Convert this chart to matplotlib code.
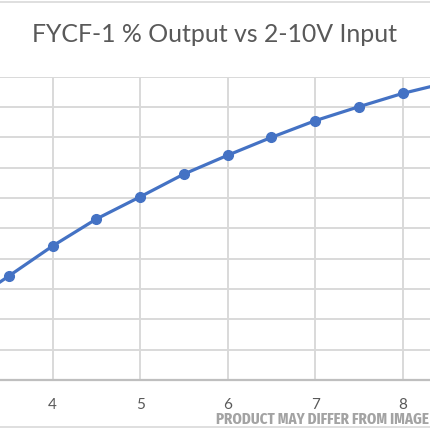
import os
import matplotlib
matplotlib.use("Agg")
import matplotlib.pyplot as plt
from matplotlib.lines import Line2D
from matplotlib import font_manager

# % output (input volts -> percent)
volts = [3.0, 3.5, 4.0, 4.5, 5.0, 5.5, 6.0, 6.5, 7.0, 7.5, 8.0, 8.5]
output = [24.5, 34.3, 44.2, 53.1, 60.4, 67.9, 74.1, 80.0, 85.5, 90.1, 94.5, 98.0]
xticks = [4, 5, 6, 7, 8]
yticks = list(range(0, 101, 10))
title = "FYCF-1 % Output vs 2-10V Input"
watermark = "PRODUCT MAY DIFFER FROM IMAGE"


def narrow_font():
    # look for any installed condensed / narrow face, bold preferred
    best, best_score = None, -1
    for f in font_manager.fontManager.ttflist:
        base = os.path.basename(f.fname).lower()
        nm = f.name.lower()
        st = str(f.stretch).lower()
        if not ("cond" in base or "narrow" in base or "condensed" in nm
                or "narrow" in nm or "condensed" in st):
            continue
        w = f.weight
        if isinstance(w, str):
            w = font_manager.weight_dict.get(w, 400)
        if "italic" in base or str(f.style) != "normal":
            continue
        score = 1000 - abs(w - 700)
        if "extra" in base or "extra" in st:
            score += 50
        if score > best_score:
            best, best_score = f, score
    return best


W = H = 430
fig = plt.figure(figsize=(4.3, 4.3), dpi=100)
fig.patch.set_facecolor("white")

# plot area is wider than the crop, so the axes runs off both sides
ax = fig.add_axes([0, 1 - 380 / H, 1, (380 - 76.7) / H])
ax.set_xticks(xticks)
ax.set_yticks(yticks)
ax.set_xlim(3.398, 8.312)
ax.set_ylim(0, 100)
ax.grid(True, color="#d9d9d9", linewidth=1.4)
ax.set_axisbelow(True)
for s in ["top", "left", "right"]:
    ax.spines[s].set_visible(False)
ax.spines["bottom"].set_color("#bfbfbf")
ax.spines["bottom"].set_linewidth(1.6)
ax.tick_params(length=0, labelsize=11, labelcolor="#595959", pad=13)
ax.set_yticklabels([])
for lab in ax.get_xticklabels():
    lab.set_family("Lato")

ax.plot(volts, output, color="#4472c4", linewidth=2.3, marker="o",
        markersize=7)

fig.text(0.5, 1 - 34.5 / H, title, ha="center", va="center",
         fontsize=17.9, color="#595959", family="Lato")

nf = narrow_font()
if nf is not None:
    wm_font = font_manager.FontProperties(fname=nf.fname, size=13)
else:
    wm_font = font_manager.FontProperties(family="DejaVu Sans",
                                          weight="bold", size=13)
wm = fig.text(216 / W, 1 - 424 / H, watermark, ha="left", va="baseline",
              color="#a3a3a3", fontproperties=wm_font)
# keep the watermark inside the picture
fig.canvas.draw()
bb = wm.get_window_extent()
if bb.width > 213:
    wm.set_fontsize(13 * 213 / bb.width)

# thin chart border lines at top and bottom of the crop
fig.add_artist(Line2D([0, 1], [1 - 2 / H, 1 - 2 / H], color="#d9d9d9",
                      linewidth=1.2, transform=fig.transFigure))
fig.add_artist(Line2D([0, 1], [1 - 427 / H, 1 - 427 / H], color="#d9d9d9",
                      linewidth=1.2, transform=fig.transFigure))

fig.savefig("out.png", dpi=100)
